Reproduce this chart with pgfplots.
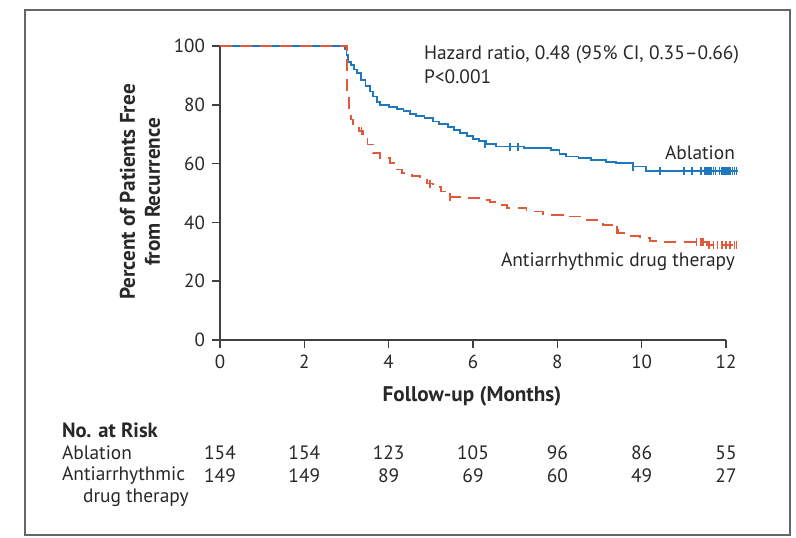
\documentclass[border=0pt]{standalone}
\usepackage{pgfplots}
\pgfplotsset{compat=1.18}
\usepackage{fontspec}
\setmainfont{PT Sans}
\definecolor{ablblue}{RGB}{30,120,190}
\definecolor{aadred}{RGB}{225,88,58}
\definecolor{txt}{RGB}{40,40,40}
\begin{document}
\begin{tikzpicture}
\begin{scope}[x=0.5pt,y=0.5pt]
\useasboundingbox (0,0) rectangle (796,537);
\draw[black!60, line width=1pt] (25,2) rectangle (790,527);
\end{scope}
\begin{axis}[
  at={(110pt,98.5pt)}, anchor=origin,
  scale only axis,
  width=253pt, height=147pt,
  xmin=0, xmax=12, ymin=0, ymax=100,
  axis lines*=left,
  tick align=outside,
  major tick length=4pt,
  xtick={0,2,...,12},
  ytick={0,20,...,100},
  axis line style={black!75, line width=0.8pt},
  tick style={black!75, line width=0.8pt},
  tick label style={font=\fontsize{9.5}{11}\selectfont, text=txt},
  /pgf/number format/assume math mode=true,
  clip=false,
]
% ablation
\addplot[ablblue, line width=0.9pt, const plot] coordinates {
  (0,100) (2.92,100) (2.97,99) (3.0,97) (3.03,94.5) (3.1,93.5) (3.18,92)
  (3.25,90.7) (3.35,88.5) (3.45,86.5) (3.55,84.5) (3.63,82.8) (3.72,81)
  (3.8,79.8) (4.0,79.3) (4.2,78.6) (4.35,77.8) (4.5,76.8) (4.65,76.2)
  (4.85,75.5) (5.05,74.3) (5.2,73.6) (5.4,72.5) (5.55,71.5) (5.7,70.4)
  (5.85,69.5) (6.0,68.5) (6.15,67.6) (6.3,66.8) (6.55,65.8) (7.2,65.2)
  (7.85,64.5) (8.05,63.4) (8.2,62.4) (8.5,61.8) (8.8,61.2) (9.15,60.6)
  (9.4,60.1) (9.8,59.0) (10.1,57.6) (12.28,57.6)
};
\addplot[ablblue, only marks, mark=|, mark size=2pt, line width=0.8pt] coordinates {
  (6.28,66.8) (6.88,65.8) (7.07,65.8) (9.8,59.0) (10.43,57.6) (11.0,57.6)
  (11.2,57.6) (11.4,57.6) (11.5,57.6) (11.55,57.6) (11.6,57.6) (11.65,57.6)
  (11.7,57.6) (11.75,57.6) (11.85,57.6) (11.9,57.6) (11.95,57.6) (12.0,57.6)
  (12.05,57.6) (12.1,57.6) (12.15,57.6) (12.2,57.6) (12.25,57.6)
};
% antiarrhythmic drug therapy
\addplot[aadred, line width=0.9pt, const plot, dash pattern=on 6pt off 4pt] coordinates {
  (0,100) (3.0,100) (3.02,85) (3.05,79) (3.1,75) (3.16,72.5) (3.3,71)
  (3.4,68.5) (3.5,66.5) (3.63,63.5) (3.8,62) (4.03,60.2) (4.2,58)
  (4.31,56.8) (4.55,55.8) (4.74,55) (4.9,53.2) (5.05,52) (5.25,50.5)
  (5.45,48.7) (5.8,48.3) (6.2,47.5) (6.4,47) (6.6,45.8) (6.8,44.8)
  (7.27,43.7) (7.66,42.5) (8.13,42) (8.7,40.8) (8.95,40) (9.08,39.1)
  (9.3,37.5) (9.45,36.5) (9.7,35.5) (9.96,34.6) (10.2,33.8) (10.35,33.3)
  (11.55,32.3) (12.28,32.3)
};
\addplot[aadred, only marks, mark=|, mark size=2pt, line width=0.8pt] coordinates {
  (3.36,71) (4.98,53.2) (5.45,48.7) (9.41,37.5) (11.3,33.3) (11.4,33.3)
  (11.45,33.3) (11.6,32.3) (11.7,32.3) (11.8,32.3) (11.9,32.3) (12.0,32.3)
  (12.1,32.3) (12.2,32.3) (12.25,32.3)
};
\end{axis}
\begin{scope}[x=0.5pt,y=0.5pt, every node/.style={text=txt, font=\fontsize{9.7}{12}\selectfont}]
\node[anchor=west] at (417,482) {Hazard ratio, 0.48 (95\% CI, 0.35–0.66)};
\node[anchor=west] at (417,460) {P<0.001};
\node[anchor=east] at (742,384) {Ablation};
\node[anchor=east] at (742,275) {Antiarrhythmic drug therapy};
\node[rotate=90, align=center, font=\fontsize{10.6}{12.5}\selectfont\bfseries] at (140,345) {Percent of Patients Free\\from Recurrence};
\node[font=\fontsize{10.6}{12.5}\selectfont\bfseries] at (472,141) {Follow-up (Months)};
\node[anchor=west, font=\fontsize{10.3}{12}\selectfont\bfseries] at (55,107) {No. at Risk};
\node[anchor=west] at (55,84) {Ablation};
\node[anchor=west] at (55,61) {Antiarrhythmic};
\node[anchor=west] at (76,39) {drug therapy};
\foreach \m/\a/\b in {0/154/149, 2/154/149, 4/123/89, 6/105/69, 8/96/60, 10/86/49, 12/55/27} {
  \node at ({220+42.17*\m},84) {\a};
  \node at ({220+42.17*\m},61) {\b};
}
\end{scope}
\end{tikzpicture}
\end{document}
